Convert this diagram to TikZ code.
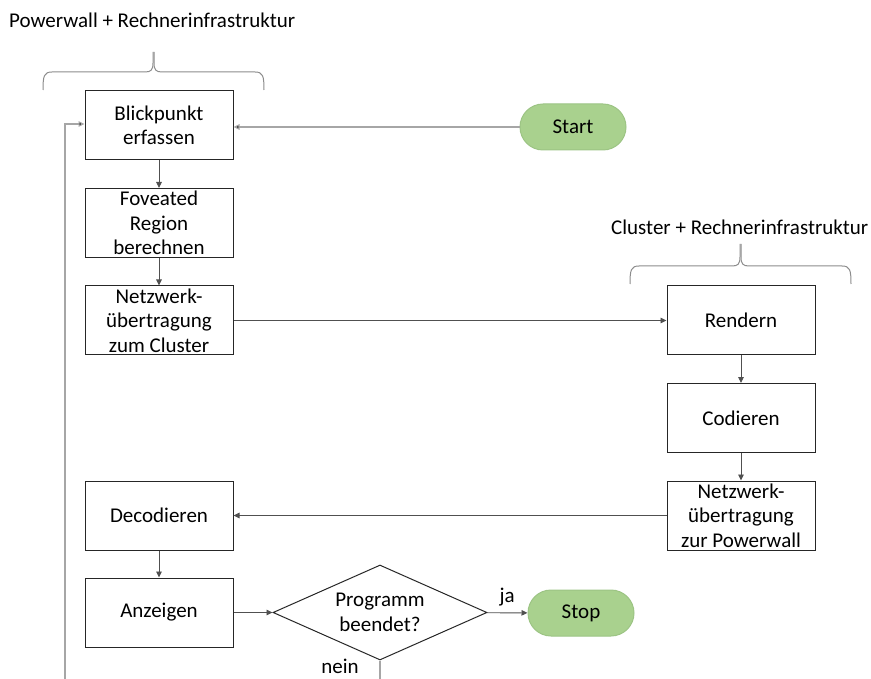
\documentclass[tikz,border=0pt]{standalone}
\usepackage{fontspec}
\setmainfont{Carlito}
\usetikzlibrary{shapes.geometric,arrows.meta}
\definecolor{boxline}{HTML}{262626}
\definecolor{arr}{HTML}{505050}
\definecolor{lgray}{HTML}{A6A6A6}
\definecolor{bgray}{HTML}{8C8C8C}
\definecolor{gfill}{HTML}{A9D18E}
\definecolor{gline}{HTML}{9CC484}
\tikzset{
  fnt/.style={font=\fontsize{21}{24.5}\selectfont},
  procbox/.style={draw=boxline, line width=1pt, rectangle, minimum width=148pt, minimum height=69pt, inner sep=0pt, align=center, fnt},
  termbox/.style={draw=gline, fill=gfill, line width=1pt, rectangle, rounded corners=23pt, minimum width=106pt, minimum height=46pt, inner sep=0pt, fnt},
  decbox/.style={draw=boxline, line width=1pt, diamond, minimum width=214pt, minimum height=95pt, inner sep=0pt},
  lbl/.style={inner sep=0pt, align=center, fnt},
  flow/.style={draw=arr, line width=0.9pt, -{Triangle[length=6pt,width=5.5pt]}},
  flowl/.style={draw=lgray, line width=1.2pt, -{Triangle[length=6pt,width=5.5pt,fill=black]}},
  plainl/.style={draw=lgray, line width=1.2pt},
  bracel/.style={draw=bgray, line width=1pt},
}
\begin{document}
\begin{tikzpicture}[x=1pt,y=-1pt]
\useasboundingbox (0,0) rectangle (871,679);
% titles
\node[lbl, anchor=west] (t1) at (9,20) {Powerwall + Rechnerinfrastruktur};
\node[lbl, anchor=west] (t2) at (611,227) {Cluster + Rechnerinfrastruktur};
% braces
\draw[bracel] (43,90) .. controls (43,76) and (44,72) .. (52,72) -- (145,72) .. controls (151,72) and (153,70) .. (153,63) -- (153,52);
\draw[bracel] (264,90) .. controls (264,76) and (263,72) .. (255,72) -- (162,72) .. controls (156,72) and (154,70) .. (154,63) -- (154,52);
\draw[bracel] (630,284) .. controls (630,270) and (631,266) .. (639,266) -- (732,266) .. controls (738,266) and (740,264) .. (740,257) -- (740,244);
\draw[bracel] (851,284) .. controls (851,270) and (850,266) .. (842,266) -- (749,266) .. controls (743,266) and (741,264) .. (741,257) -- (741,244);
% nodes
\node[procbox] (blick) at (159,125.5) {Blickpunkt\\erfassen};
\node[procbox] (fov) at (159,223) {Foveated\\Region\\berechnen};
\node[procbox] (netz1) at (159,320.5) {Netzwerk-\\übertragung\\zum Cluster};
\node[procbox] (deco) at (159,515.5) {Decodieren};
\node[procbox] (anz) at (159,612.5) {Anzeigen};
\node[procbox] (rend) at (741,320.5) {Rendern};
\node[procbox] (cod) at (741,418) {Codieren};
\node[procbox] (netz2) at (741,515.5) {Netzwerk-\\übertragung\\zur Powerwall};
\node[termbox] (start) at (573,127) {Start};
\node[termbox] (stop) at (581,613) {Stop};
\node[decbox] (dec) at (380,612.5) {};
\node[lbl] (dectext) at (dec.center) {Programm\\beendet?};
\coordinate (neinend) at (380,679);
\coordinate (loopstart) at (65,679);
% connectors
\draw[flowl] (start.west) -- (start.west -| blick.east);
\draw[flow] (blick) -- (fov);
\draw[flow] (fov) -- (netz1);
\draw[flow] (netz1) -- (rend);
\draw[flow] (rend) -- (cod);
\draw[flow] (cod) -- (netz2);
\draw[flow] (netz2) -- (deco);
\draw[flow] (deco) -- (anz);
\draw[flow] (anz) -- (dec);
\draw[flow] (dec) -- node[lbl, above=6pt] (ja) {ja} (stop);
\draw[plainl] (dec.south) -- (neinend);
\node[lbl] (nein) at (340,666) {nein};
\draw[flowl] (loopstart) |- ([yshift=1.5pt]blick.west);
\end{tikzpicture}
\end{document}
